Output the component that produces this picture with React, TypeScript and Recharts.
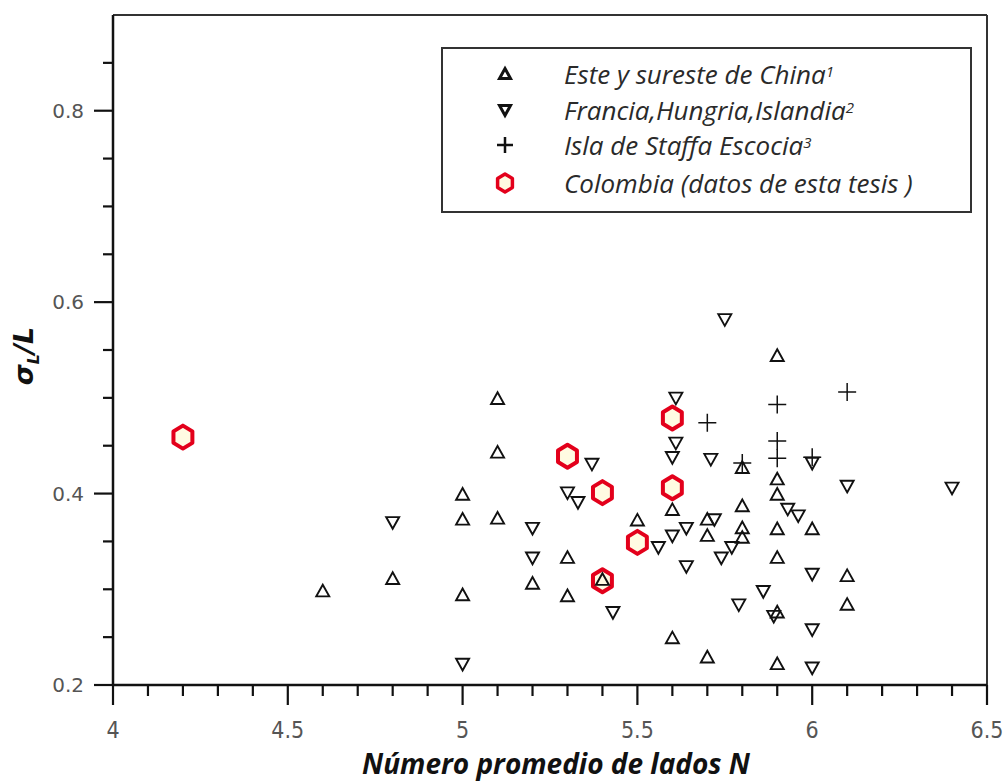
import React from 'react';
import { ScatterChart, Scatter, XAxis, YAxis, ReferenceLine, Legend } from 'recharts';

const chinaData = [
  { x: 4.6, y: 0.298 }, { x: 4.8, y: 0.311 }, { x: 5.0, y: 0.399 }, { x: 5.0, y: 0.373 }, { x: 5.0, y: 0.294 },
  { x: 5.1, y: 0.499 }, { x: 5.1, y: 0.443 }, { x: 5.1, y: 0.374 }, { x: 5.2, y: 0.306 }, { x: 5.3, y: 0.333 },
  { x: 5.3, y: 0.293 }, { x: 5.4, y: 0.31 }, { x: 5.5, y: 0.372 }, { x: 5.6, y: 0.383 }, { x: 5.6, y: 0.249 },
  { x: 5.7, y: 0.373 }, { x: 5.7, y: 0.356 }, { x: 5.7, y: 0.229 }, { x: 5.8, y: 0.427 }, { x: 5.8, y: 0.387 },
  { x: 5.8, y: 0.364 }, { x: 5.8, y: 0.354 }, { x: 5.9, y: 0.544 }, { x: 5.9, y: 0.415 }, { x: 5.9, y: 0.399 },
  { x: 5.9, y: 0.363 }, { x: 5.9, y: 0.333 }, { x: 5.9, y: 0.276 }, { x: 5.9, y: 0.222 }, { x: 6.0, y: 0.363 },
  { x: 6.1, y: 0.314 }, { x: 6.1, y: 0.284 },
];

const franceData = [
  { x: 4.8, y: 0.37 }, { x: 5.0, y: 0.222 }, { x: 5.2, y: 0.364 }, { x: 5.2, y: 0.333 }, { x: 5.3, y: 0.401 },
  { x: 5.33, y: 0.391 }, { x: 5.37, y: 0.431 }, { x: 5.43, y: 0.276 }, { x: 5.56, y: 0.344 }, { x: 5.6, y: 0.356 },
  { x: 5.6, y: 0.438 }, { x: 5.61, y: 0.453 }, { x: 5.61, y: 0.5 }, { x: 5.64, y: 0.364 }, { x: 5.64, y: 0.324 },
  { x: 5.71, y: 0.436 }, { x: 5.72, y: 0.373 }, { x: 5.74, y: 0.333 }, { x: 5.75, y: 0.582 }, { x: 5.77, y: 0.344 },
  { x: 5.79, y: 0.284 }, { x: 5.86, y: 0.298 }, { x: 5.89, y: 0.272 }, { x: 5.93, y: 0.384 }, { x: 5.96, y: 0.377 },
  { x: 6.0, y: 0.432 }, { x: 6.0, y: 0.316 }, { x: 6.0, y: 0.258 }, { x: 6.0, y: 0.218 }, { x: 6.1, y: 0.408 },
  { x: 6.4, y: 0.406 },
];

const staffaData = [
  { x: 5.7, y: 0.474 }, { x: 5.8, y: 0.432 }, { x: 5.9, y: 0.493 }, { x: 5.9, y: 0.455 }, { x: 5.9, y: 0.437 },
  { x: 6.0, y: 0.438 }, { x: 6.1, y: 0.506 },
];

const colombiaData = [
  { x: 4.2, y: 0.459 }, { x: 5.3, y: 0.439 }, { x: 5.4, y: 0.401 }, { x: 5.4, y: 0.309 }, { x: 5.5, y: 0.349 },
  { x: 5.6, y: 0.479 }, { x: 5.6, y: 0.406 },
];

const xTicks = [4, 4.1, 4.2, 4.3, 4.4, 4.5, 4.6, 4.7, 4.8, 4.9, 5, 5.1, 5.2, 5.3, 5.4, 5.5, 5.6, 5.7, 5.8, 5.9, 6, 6.1, 6.2, 6.3, 6.4, 6.5];
const xMajor = [4, 4.5, 5, 5.5, 6, 6.5];
const yTicks = [0.2, 0.25, 0.3, 0.35, 0.4, 0.45, 0.5, 0.55, 0.6, 0.65, 0.7, 0.75, 0.8, 0.85];
const yMajor = [0.2, 0.4, 0.6, 0.8];

const seriesNames = ['Este y sureste de China', 'Francia,Hungria,Islandia', 'Isla de Staffa Escocia', 'Colombia (datos de esta tesis )'];
const seriesSup = ['1', '2', '3', ''];

const isIn = (arr: number[], v: number) => arr.some((a) => Math.abs(a - v) < 1e-6);

const XTick = (props: any) => {
  const { x, y, payload } = props;
  const v = payload.value;
  const major = isIn(xMajor, v);
  return (
    <g>
      <line x1={x} x2={x} y1={y} y2={y + (major ? 20 : 11)} stroke="#111" strokeWidth={2.2} />
      {major && (
        <text x={x} y={y + 53} textAnchor="middle" fontFamily="'DejaVu Sans Condensed','Open Sans',sans-serif" fontSize={23} fill="#555">
          {String(v)}
        </text>
      )}
    </g>
  );
};

const YTick = (props: any) => {
  const { x, y, payload } = props;
  const v = payload.value;
  const major = isIn(yMajor, v);
  return (
    <g>
      <line x1={x} x2={x - (major ? 19 : 10)} y1={y} y2={y} stroke="#111" strokeWidth={2.2} />
      {major && (
        <text x={x - 29} y={y + 7} textAnchor="end" fontFamily="'DejaVu Sans',sans-serif" fontSize={20} fill="#555">
          {v.toFixed(1)}
        </text>
      )}
    </g>
  );
};

const UpTri = ({ cx, cy, s = 6.5, sw = 1.9 }: any) => (
  <path d={`M${cx},${cy - s} L${cx + s},${cy + s * 0.8} L${cx - s},${cy + s * 0.8} Z`} fill="none" stroke="#111" strokeWidth={sw} />
);
const DownTri = ({ cx, cy, s = 6.5, sw = 1.9 }: any) => (
  <path d={`M${cx},${cy + s} L${cx + s},${cy - s * 0.8} L${cx - s},${cy - s * 0.8} Z`} fill="none" stroke="#111" strokeWidth={sw} />
);
const Plus = ({ cx, cy, s = 9, sw = 1.5 }: any) => (
  <path d={`M${cx - s},${cy} L${cx + s},${cy} M${cx},${cy - s} L${cx},${cy + s}`} fill="none" stroke="#111" strokeWidth={sw} />
);
const Hex = ({ cx, cy, r = 11.5, sw = 4 }: any) => {
  const pts: string[] = [];
  for (let i = 0; i < 6; i++) {
    const a = (Math.PI / 3) * i - Math.PI / 2;
    pts.push(`${cx + r * 0.95 * Math.cos(a)},${cy + r * Math.sin(a)}`);
  }
  return <polygon points={pts.join(' ')} fill="#fffbe2" stroke="#e3001b" strokeWidth={sw} strokeLinejoin="round" />;
};

const markers = [
  (cx: number, cy: number) => <UpTri cx={cx} cy={cy} s={5.5} sw={3} />,
  (cx: number, cy: number) => <DownTri cx={cx} cy={cy} s={5.5} sw={3} />,
  (cx: number, cy: number) => <Plus cx={cx} cy={cy} s={8} sw={2.5} />,
  (cx: number, cy: number) => <Hex cx={cx} cy={cy} r={9} sw={3.5} />,
];

const LegendBox = () => (
  <div
    style={{
      position: 'absolute', left: 441, top: 47, width: 527, height: 162,
      border: '2px solid #333', background: '#fff', boxSizing: 'content-box',
    }}
  >
    {seriesNames.map((n, i) => (
      <div key={n} style={{ position: 'absolute', left: 0, top: [10, 46, 81, 119][i], height: 30, width: 520 }}>
        <svg width={40} height={30} style={{ position: 'absolute', left: 42, top: 0 }}>
          {markers[i](20, 15)}
        </svg>
        <span
          style={{
            position: 'absolute', left: 121, top: 0, lineHeight: '30px', whiteSpace: 'nowrap',
            fontFamily: "'Open Sans',sans-serif", fontStyle: 'italic', fontSize: 26, color: '#2a2a2a',
          }}
        >
          {n}
          {seriesSup[i] && <sup style={{ fontSize: 15, verticalAlign: 'top', lineHeight: '24px' }}>{seriesSup[i]}</sup>}
        </span>
      </div>
    ))}
  </div>
);

export default function App() {
  return (
    <div style={{ position: 'absolute', left: 0, top: 0, width: 1006, height: 782, background: '#fff' }}>
      <ScatterChart width={1006} height={782} margin={{ top: 15, right: 19, left: 0, bottom: 0 }}>
        <XAxis
          type="number" dataKey="x" domain={[4, 6.5]} ticks={xTicks} allowDataOverflow
          height={97} tickSize={0} tickMargin={0} tickLine={false} tick={<XTick />}
          axisLine={{ stroke: '#111', strokeWidth: 2.5 }}
          label={(p: any) => {
            const vb = p.viewBox || {};
            const cx = (vb.x ?? 113) + (vb.width ?? 874) / 2 + 6;
            return (
              <text x={cx} y={774} textAnchor="middle" fontFamily="'Open Sans',sans-serif" fontWeight={700}
                fontStyle="italic" fontSize={28} fill="#111">
                Número promedio de lados N
              </text>
            );
          }}
        />
        <YAxis
          type="number" dataKey="y" domain={[0.2, 0.9]} ticks={yTicks} allowDataOverflow
          width={113} tickSize={0} tickMargin={0} tickLine={false} tick={<YTick />}
          axisLine={{ stroke: '#111', strokeWidth: 2.5 }}
          label={(p: any) => {
            const vb = p.viewBox || {};
            const cy = (vb.y ?? 15) + (vb.height ?? 670) / 2 + 6;
            return (
              <text x={33} y={cy} transform={`rotate(-90 33 ${cy})`} textAnchor="middle"
                fontFamily="'DejaVu Sans',sans-serif" fontWeight={700} fontStyle="italic" fontSize={27} fill="#111">
                σ<tspan fontSize={16} dy={6}>L</tspan><tspan dy={-6}>/L</tspan>
              </text>
            );
          }}
        />
        <ReferenceLine y={0.9} stroke="#333" strokeWidth={2} ifOverflow="visible" />
        <ReferenceLine x={6.5} stroke="#333" strokeWidth={2} ifOverflow="visible" />
        <Scatter name={seriesNames[3]} data={colombiaData} isAnimationActive={false}
          shape={(p: any) => <Hex cx={p.cx} cy={p.cy} />} />
        <Scatter name={seriesNames[0]} data={chinaData} isAnimationActive={false}
          shape={(p: any) => <UpTri cx={p.cx} cy={p.cy} />} />
        <Scatter name={seriesNames[1]} data={franceData} isAnimationActive={false}
          shape={(p: any) => <DownTri cx={p.cx} cy={p.cy} />} />
        <Scatter name={seriesNames[2]} data={staffaData} isAnimationActive={false}
          shape={(p: any) => <Plus cx={p.cx} cy={p.cy} />} />
        <Legend layout="vertical" align="center" verticalAlign="middle" content={() => <LegendBox />}
          wrapperStyle={{ position: 'absolute', left: 0, top: 0, width: 0, height: 0 }} />
      </ScatterChart>
    </div>
  );
}
